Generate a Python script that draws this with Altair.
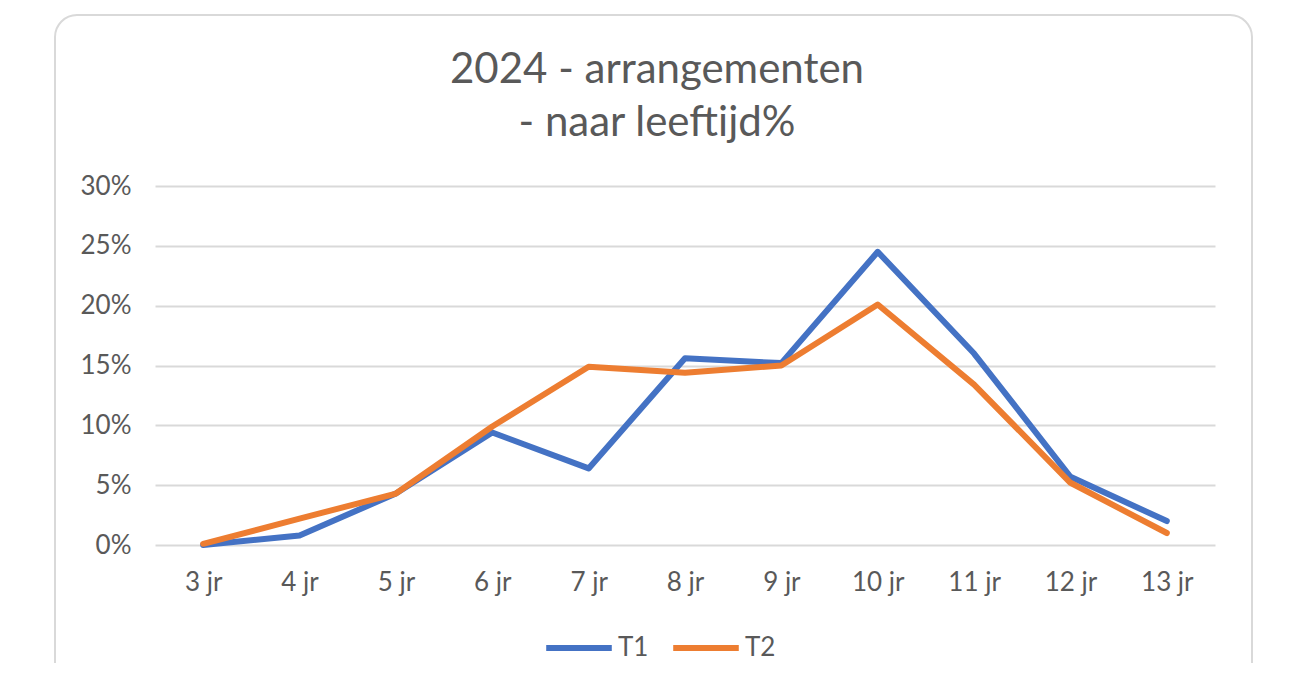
import altair as alt
import pandas as pd

categories = ["3 jr", "4 jr", "5 jr", "6 jr", "7 jr", "8 jr", "9 jr", "10 jr", "11 jr", "12 jr", "13 jr"]
t1 = [0.0, 0.8, 4.3, 9.4, 6.4, 15.6, 15.2, 24.5, 16.0, 5.7, 2.0]
t2 = [0.1, 2.2, 4.3, 9.9, 14.9, 14.4, 15.0, 20.1, 13.4, 5.2, 1.0]
series = ["T1", "T2"]
colors = ["#4472C4", "#ED7D31"]
y_ticks = [0, 0.05, 0.10, 0.15, 0.20, 0.25, 0.30]
title_lines = ["2024 - arrangementen", "- naar leeftijd%"]

rows = []
for name, vals in zip(series, [t1, t2]):
    for c, v in zip(categories, vals):
        rows.append({"leeftijd": c, "serie": name, "pct": v / 100})
df = pd.DataFrame(rows)

FONT = "Lato"
GREY = "#595959"

frame = alt.Chart(pd.DataFrame({"k": [0]})).mark_rect(
    fillOpacity=0, stroke="#D9D9D9", strokeWidth=2, cornerRadius=22
).encode(
    x=alt.value(-100), x2=alt.value(1097), y=alt.value(-171), y2=alt.value(520)
)

lines = alt.Chart(df).mark_line(strokeWidth=6, strokeCap="round", strokeJoin="round").encode(
    x=alt.X("leeftijd:N", sort=categories,
            scale=alt.Scale(type="point", padding=0.5),
            axis=alt.Axis(title=None, labelAngle=0, ticks=False, domain=False,
                          labelPadding=24, labelFontSize=26, labelColor=GREY,
                          labelFont=FONT, grid=False)),
    y=alt.Y("pct:Q", scale=alt.Scale(domain=[0, 0.30], nice=False),
            axis=alt.Axis(title=None, format=".0%", values=y_ticks, ticks=False,
                          domain=False, labelPadding=24, labelFontSize=26,
                          labelColor=GREY, labelFont=FONT, gridColor="#D9D9D9",
                          gridWidth=2)),
    color=alt.Color("serie:N", sort=series,
                    scale=alt.Scale(domain=series, range=colors),
                    legend=alt.Legend(title=None, orient="none", direction="horizontal",
                                      legendX=388, legendY=426, symbolType="stroke",
                                      symbolSize=4300, symbolStrokeWidth=6,
                                      labelOffset=3, columnPadding=12,
                                      labelFontSize=26, labelColor=GREY, labelFont=FONT,
                                      padding=0)),
)

chart = alt.layer(frame, lines).properties(
    width=1060,
    height=359,
    background="white",
    padding={"left": 147, "top": 178, "right": 71, "bottom": 118},
    autosize=alt.AutoSizeParams(type="none"),
    title=alt.TitleParams(
        text=title_lines, fontSize=42, lineHeight=53, color=GREY, font=FONT,
        fontWeight="normal", anchor="middle", offset=-131, dx=-28,
    ),
).configure_view(stroke="transparent", strokeWidth=0)

chart.save("out.html", embed_options={"renderer": "svg", "actions": False})
